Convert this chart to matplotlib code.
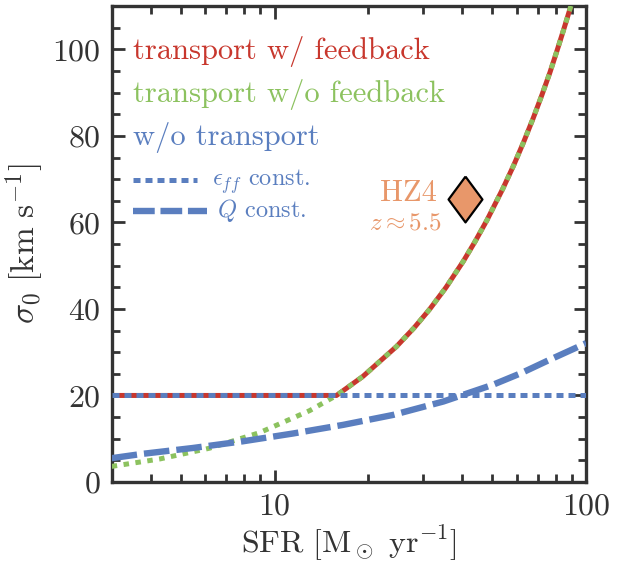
import matplotlib
matplotlib.use("Agg")
import matplotlib.pyplot as plt
from matplotlib.ticker import FixedLocator, MultipleLocator, NullFormatter

# model curves: velocity dispersion vs star formation rate
sfr_nofb = [3.0, 4.27, 6.18, 8.95, 12.96, 15.8, 19.2, 24.6, 28.0, 31.5, 35.5, 40.3, 44.0,
            48.0, 54.0, 58.5, 62.9, 67.5, 72.1, 76.5, 80.5, 84.5, 89.5]
sig_nofb = [3.6, 5.3, 7.8, 11.4, 16.5, 20.0, 24.4, 31.3, 35.6, 40.0, 45.0, 51.0, 55.6,
            60.5, 67.8, 73.2, 78.5, 84.0, 89.5, 94.7, 99.6, 104.4, 110.3]

sfr_fb = [3.0, 15.8, 19.2, 24.6, 28.0, 31.5, 35.5, 40.3, 44.0,
          48.0, 54.0, 58.5, 62.9, 67.5, 72.1, 76.5, 80.5, 84.5, 89.5]
sig_fb = [20.0, 20.0, 24.4, 31.3, 35.6, 40.0, 45.0, 51.0, 55.6,
          60.5, 67.8, 73.2, 78.5, 84.0, 89.5, 94.7, 99.6, 104.4, 110.3]

sfr_eff = [3.0, 100.0]
sig_eff = [20.0, 20.0]

sfr_q = [3.0, 3.77, 5.46, 7.91, 11.45, 16.6, 24.0, 34.8, 50.3, 62.0, 75.0, 100.0]
sig_q = [5.5, 6.5, 7.85, 9.4, 11.2, 13.2, 15.5, 18.6, 22.5, 25.2, 28.0, 32.1]

hz4_sfr, hz4_sig = 40.8, 65.4

RED = "#c8372d"
GREEN = "#8cc25f"
BLUE = "#5a7ebf"
ORANGE = "#e8976a"
DARK = "#333333"

plt.rcParams.update({
    "font.family": "serif",
    "font.serif": ["cmr10"],
    "mathtext.fontset": "cm",
    "axes.unicode_minus": False,
    "axes.formatter.use_mathtext": True,
})

fig = plt.figure(figsize=(6.31, 5.67), dpi=100)
ax = fig.add_axes([0.177, 0.150, 0.752, 0.839])

ax.plot(sfr_fb, sig_fb, color=RED, lw=3.6, solid_capstyle="butt", zorder=2)
ax.plot(sfr_nofb, sig_nofb, color=GREEN, lw=3.6, dashes=(1.1, 1.3),
        dash_capstyle="butt", zorder=3)
ax.plot(sfr_eff, sig_eff, color=BLUE, lw=3.6, dashes=(1.4, 1.0),
        dash_capstyle="butt", zorder=4)
ax.plot(sfr_q, sig_q, color=BLUE, lw=4.6, dashes=(4.0, 1.1),
        dash_capstyle="butt", zorder=5)

diamond = [(0, 1), (0.74, 0), (0, -1), (-0.74, 0), (0, 1)]
ax.plot([hz4_sfr], [hz4_sig], marker=diamond, ms=33, mfc=ORANGE, mec="black",
        mew=1.6, ls="none", zorder=6)
ax.text(26.8, 65.0, "HZ4", color=ORANGE, fontsize=22, ha="center", va="baseline")
ax.text(26.3, 58.3, r"$z \approx 5.5$", color=ORANGE, fontsize=18, ha="center", va="baseline")

# labels standing in for a legend
tx = ax.transAxes
ax.text(0.045, 97.7 / 110, "transport w/ feedback", color=RED, fontsize=22,
        va="baseline", transform=tx)
ax.text(0.045, 87.9 / 110, "transport w/o feedback", color=GREEN, fontsize=22,
        va="baseline", transform=tx)
ax.text(0.045, 77.9 / 110, "w/o transport", color=BLUE, fontsize=22,
        va="baseline", transform=tx)
ax.plot([0.045, 0.180], [69.8 / 110] * 2, color=BLUE, lw=3.6, dashes=(1.4, 1.0),
        dash_capstyle="butt", transform=tx)
ax.text(0.212, 68.4 / 110, r"$\epsilon_{ff}$ const.", color=BLUE, fontsize=17.5,
        va="baseline", transform=tx)
ax.plot([0.045, 0.201], [62.7 / 110] * 2, color=BLUE, lw=4.6, dashes=(3.4, 0.9),
        dash_capstyle="butt", transform=tx)
ax.text(0.222, 61.3 / 110, r"$Q$ const.", color=BLUE, fontsize=17.5,
        va="baseline", transform=tx)

ax.set_xscale("log")
ax.set_xlim(3, 100)
ax.set_ylim(0, 110)

ax.xaxis.set_major_locator(FixedLocator([10, 100]))
ax.set_xticklabels(["10", "100"])
ax.xaxis.set_minor_locator(FixedLocator([4, 5, 6, 7, 8, 9, 20, 30, 40, 50, 60, 70, 80, 90]))
ax.xaxis.set_minor_formatter(NullFormatter())
ax.yaxis.set_major_locator(MultipleLocator(20))
ax.yaxis.set_minor_locator(MultipleLocator(5))

ax.tick_params(which="both", direction="in", top=True, right=True,
               color=DARK, width=2.0, labelsize=23, labelcolor=DARK, pad=8)
ax.tick_params(which="major", length=9)
ax.tick_params(which="minor", length=5.5)
for s in ax.spines.values():
    s.set_linewidth(2.4)
    s.set_color(DARK)

ax.set_xlabel(r"$\mathrm{SFR}\ [\mathrm{M}_\odot\ \mathrm{yr}^{-1}]$", fontsize=23, color=DARK, labelpad=2)
ax.set_ylabel(r"$\sigma_0\ [\mathrm{km}\ \mathrm{s}^{-1}]$", fontsize=24, color=DARK, labelpad=4)

fig.savefig("out.png", dpi=100)
